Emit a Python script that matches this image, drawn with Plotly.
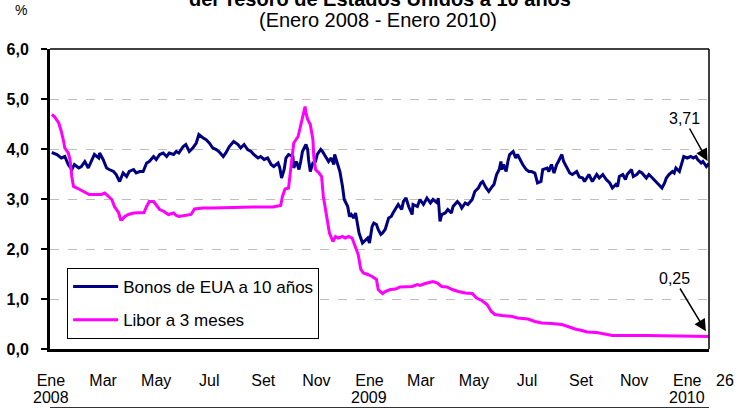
import plotly.graph_objects as go

# ---------------- data ----------------
bonos_dates = [
    "2008-01-02","2008-01-08","2008-01-13","2008-01-17","2008-01-21","2008-01-25","2008-01-28",
    "2008-02-02","2008-02-05","2008-02-09","2008-02-13","2008-02-17","2008-02-20","2008-02-25","2008-02-26",
    "2008-03-01","2008-03-05","2008-03-08","2008-03-13","2008-03-16","2008-03-20","2008-03-24","2008-03-28","2008-03-31",
    "2008-04-05","2008-04-08","2008-04-12","2008-04-16","2008-04-20","2008-04-23","2008-04-28",
    "2008-05-01","2008-05-05","2008-05-09","2008-05-13","2008-05-16","2008-05-21","2008-05-24","2008-05-27",
    "2008-06-01","2008-06-04","2008-06-08","2008-06-12","2008-06-16","2008-06-19","2008-06-24","2008-06-27",
    "2008-07-01","2008-07-05","2008-07-09","2008-07-12","2008-07-17","2008-07-20","2008-07-24","2008-07-29",
    "2008-08-03","2008-08-06","2008-08-10","2008-08-14","2008-08-18","2008-08-21","2008-08-26","2008-08-29",
    "2008-09-02","2008-09-06","2008-09-10","2008-09-13","2008-09-18","2008-09-20","2008-09-22","2008-09-25","2008-09-27","2008-09-30",
    "2008-10-05","2008-10-06","2008-10-09","2008-10-12","2008-10-14","2008-10-16","2008-10-20","2008-10-22","2008-10-23","2008-10-25","2008-10-28","2008-10-31",
    "2008-11-02","2008-11-06","2008-11-08","2008-11-12","2008-11-15","2008-11-18","2008-11-21","2008-11-22","2008-11-25","2008-11-28",
    "2008-12-01","2008-12-03","2008-12-07","2008-12-09","2008-12-11","2008-12-14","2008-12-16","2008-12-18","2008-12-20","2008-12-24","2008-12-26","2008-12-30",
    "2009-01-01","2009-01-04","2009-01-06","2009-01-09","2009-01-11","2009-01-14","2009-01-16","2009-01-19","2009-01-23","2009-01-26","2009-01-28",
    "2009-02-01","2009-02-03","2009-02-07","2009-02-09","2009-02-12","2009-02-15","2009-02-19","2009-02-20","2009-02-25","2009-02-28",
    "2009-03-04","2009-03-08","2009-03-12","2009-03-15","2009-03-20","2009-03-21","2009-03-23","2009-03-25","2009-03-29",
    "2009-04-01","2009-04-05","2009-04-07","2009-04-12","2009-04-15","2009-04-17","2009-04-21","2009-04-24","2009-04-29",
    "2009-05-02","2009-05-06","2009-05-09","2009-05-11","2009-05-15","2009-05-18","2009-05-22","2009-05-24","2009-05-27","2009-05-30",
    "2009-06-01","2009-06-02","2009-06-04","2009-06-07","2009-06-09","2009-06-11","2009-06-15","2009-06-18","2009-06-20","2009-06-24","2009-06-26","2009-06-30",
    "2009-07-03","2009-07-06","2009-07-10","2009-07-13","2009-07-17","2009-07-19","2009-07-24","2009-07-26","2009-07-29",
    "2009-08-01","2009-08-04","2009-08-06","2009-08-10","2009-08-12","2009-08-15","2009-08-19","2009-08-22","2009-08-27","2009-08-30",
    "2009-09-03","2009-09-05","2009-09-08","2009-09-10","2009-09-14","2009-09-19","2009-09-22","2009-09-26","2009-09-30",
    "2009-10-04","2009-10-07","2009-10-11","2009-10-13","2009-10-15","2009-10-19","2009-10-22","2009-10-24","2009-10-29","2009-10-31",
    "2009-11-04","2009-11-07","2009-11-10","2009-11-15","2009-11-18","2009-11-22","2009-11-26","2009-11-30",
    "2009-12-03","2009-12-06","2009-12-08","2009-12-11","2009-12-15","2009-12-17","2009-12-19","2009-12-23","2009-12-26","2009-12-28",
    "2010-01-01","2010-01-05","2010-01-08","2010-01-11","2010-01-13","2010-01-17","2010-01-19","2010-01-23","2010-01-26",
]
bonos_vals = [
    3.93,3.89,3.82,3.85,3.69,3.59,3.69,
    3.62,3.65,3.75,3.62,3.79,3.89,3.82,3.92,
    3.79,3.62,3.59,3.55,3.49,3.35,3.52,3.45,3.55,
    3.59,3.52,3.55,3.55,3.72,3.75,3.85,
    3.79,3.89,3.92,3.85,3.92,3.89,3.95,3.92,
    4.05,4.09,3.95,4.02,4.12,4.29,4.22,4.19,
    4.12,4.02,3.99,3.95,3.85,3.92,4.05,4.15,
    4.09,4.02,4.09,3.99,3.95,3.89,3.82,3.85,
    3.79,3.82,3.69,3.65,3.72,3.62,3.42,3.59,3.82,3.89,
    3.85,3.62,3.75,3.59,3.75,3.95,4.09,3.99,3.79,3.55,3.72,3.75,
    3.89,3.99,3.95,3.82,3.75,3.82,3.69,3.89,3.72,3.55,
    3.25,2.99,2.85,2.65,2.69,2.62,2.72,2.52,2.32,2.12,2.15,2.22,
    2.12,2.45,2.52,2.49,2.39,2.29,2.32,2.39,2.62,2.65,2.72,
    2.82,2.89,2.79,2.95,3.02,2.85,2.69,2.89,2.85,2.99,
    2.89,3.02,2.92,2.99,2.92,3.02,2.55,2.69,2.72,
    2.79,2.72,2.85,2.95,2.89,2.82,2.92,2.89,2.99,
    3.15,3.22,3.32,3.35,3.22,3.15,3.25,3.29,3.49,3.59,
    3.75,3.59,3.69,3.55,3.75,3.89,3.95,3.82,3.89,3.75,3.69,3.59,
    3.55,3.55,3.52,3.32,3.35,3.59,3.62,3.55,3.69,
    3.52,3.69,3.75,3.89,3.75,3.65,3.52,3.49,3.55,3.44,
    3.42,3.35,3.45,3.49,3.35,3.49,3.42,3.49,3.39,
    3.32,3.22,3.29,3.25,3.45,3.49,3.39,3.49,3.59,3.45,
    3.49,3.55,3.52,3.42,3.49,3.42,3.35,3.29,
    3.22,3.32,3.42,3.49,3.55,3.52,3.62,3.55,3.75,3.85,
    3.82,3.85,3.82,3.85,3.79,3.72,3.75,3.65,3.71,
]

libor_dates = [
    "2008-01-02","2008-01-05","2008-01-10","2008-01-13","2008-01-16","2008-01-17","2008-01-21","2008-01-23","2008-01-25","2008-01-27","2008-01-31",
    "2008-02-03","2008-02-08","2008-02-11","2008-02-14","2008-02-22","2008-02-28",
    "2008-03-03","2008-03-07","2008-03-11","2008-03-14","2008-03-19","2008-03-21","2008-03-23","2008-03-26","2008-03-30",
    "2008-04-05","2008-04-12","2008-04-17","2008-04-20","2008-04-23","2008-04-28",
    "2008-05-01","2008-05-05","2008-05-10","2008-05-15","2008-05-21","2008-05-24","2008-05-27",
    "2008-06-04","2008-06-10","2008-06-14","2008-06-24","2008-07-05","2008-07-24","2008-08-20",
    "2008-09-12","2008-09-15","2008-09-21","2008-09-23","2008-09-26","2008-09-30",
    "2008-10-03","2008-10-06","2008-10-11","2008-10-13","2008-10-16","2008-10-19","2008-10-20","2008-10-22","2008-10-25","2008-10-28","2008-10-29","2008-10-31",
    "2008-11-04","2008-11-07","2008-11-09","2008-11-14","2008-11-16","2008-11-20","2008-11-23","2008-11-26",
    "2008-12-01","2008-12-04","2008-12-08","2008-12-12","2008-12-16","2008-12-19","2008-12-22","2008-12-25","2008-12-30",
    "2009-01-04","2009-01-09","2009-01-11","2009-01-16","2009-01-19","2009-01-25","2009-01-31",
    "2009-02-05","2009-02-15","2009-02-19","2009-02-25","2009-02-28",
    "2009-03-06","2009-03-12","2009-03-15","2009-03-20","2009-03-25","2009-03-31",
    "2009-04-06","2009-04-13","2009-04-21","2009-04-29",
    "2009-05-04","2009-05-10","2009-05-16","2009-05-21","2009-05-25",
    "2009-06-02","2009-06-14","2009-06-20","2009-07-02","2009-07-10","2009-07-18","2009-07-29",
    "2009-08-10","2009-08-17","2009-08-25","2009-09-02","2009-09-08","2009-09-19","2009-09-30",
    "2009-10-07","2009-11-15","2009-12-15","2010-01-11","2010-01-26",
]
libor_vals = [
    4.69,4.65,4.52,4.35,4.12,4.02,3.92,3.79,3.45,3.25,3.22,
    3.19,3.15,3.12,3.09,3.09,3.09,
    3.12,3.05,2.99,2.85,2.72,2.59,2.59,2.65,2.69,
    2.72,2.72,2.73,2.85,2.95,2.95,
    2.89,2.79,2.75,2.69,2.72,2.67,2.65,
    2.67,2.69,2.80,2.82,2.82,2.83,2.84,
    2.84,2.85,2.87,3.05,3.20,3.22,
    3.65,4.12,4.25,4.39,4.65,4.85,4.72,4.59,4.49,4.19,3.85,3.59,
    3.52,3.45,3.05,2.52,2.32,2.15,2.25,2.22,
    2.25,2.22,2.25,2.22,2.05,1.89,1.59,1.52,1.49,
    1.45,1.39,1.19,1.11,1.15,1.19,1.20,
    1.24,1.25,1.25,1.29,1.27,
    1.31,1.33,1.35,1.32,1.25,1.24,
    1.19,1.15,1.12,1.11,
    1.02,0.97,0.89,0.75,0.69,
    0.67,0.65,0.62,0.60,0.55,0.52,0.51,
    0.49,0.45,0.40,0.37,0.34,0.33,0.29,
    0.27,0.27,0.26,0.26,0.25,
]

tick_dates = ["2008-01-01","2008-03-01","2008-05-01","2008-07-01","2008-09-01","2008-11-01",
              "2009-01-01","2009-03-01","2009-05-01","2009-07-01","2009-09-01","2009-11-01",
              "2010-01-01"]
tick_labels = ["Ene","Mar","May","Jul","Set","Nov",
               "Ene","Mar","May","Jul","Set","Nov",
               "Ene"]
year_dates = ["2008-01-01", "2009-01-01", "2010-01-01"]
year_labels = ["2008", "2009", "2010"]
end_day_label = "26"

series_names = ["Bonos de EUA a 10 años", "Libor a 3 meses"]
title_text = "del Tesoro de Estados Unidos a 10 años"
subtitle_text = "(Enero 2008 - Enero 2010)"

FONT = "Arial, Liberation Sans, sans-serif"

fig = go.Figure()
fig.add_trace(go.Scatter(x=bonos_dates, y=bonos_vals, mode="lines", name=series_names[0],
                         legendgroup="a",
                         line=dict(color="#000080", width=3)))
fig.add_trace(go.Scatter(x=libor_dates, y=libor_vals, mode="lines", name=series_names[1],
                         legendgroup="b",
                         line=dict(color="#FF00FF", width=3)))

fig.update_layout(
    width=748, height=409,
    margin=dict(l=50, r=39, t=49, b=60, autoexpand=False),
    paper_bgcolor="white", plot_bgcolor="white",
    separators=",.",
    font=dict(family=FONT, color="black", size=16),
    showlegend=True,
    legend=dict(x=0.026, y=0.27, xanchor="left", yanchor="top",
                bgcolor="white", bordercolor="black", borderwidth=1,
                font=dict(size=17, family=FONT), tracegroupgap=8,
                itemwidth=45),
)

fig.update_xaxes(
    type="date", range=["2007-12-31", "2010-01-26"],
    tickvals=tick_dates, ticktext=tick_labels,
    showgrid=False, zeroline=False, automargin=False,
    showline=True, linecolor="black", linewidth=3,
    ticks="", tickfont=dict(size=16, family=FONT),
    ticklabelstandoff=15,
)
fig.update_yaxes(
    range=[0, 6], dtick=1, tickformat=".1f", automargin=False,
    showgrid=True, gridcolor="#BEBEBE", griddash="dash", gridwidth=1,
    zeroline=False,
    showline=True, linecolor="black", linewidth=3,
    ticks="outside", ticklen=6, tickwidth=1.5, tickcolor="black",
    tickfont=dict(size=16, family=FONT, weight="bold"),
    ticklabelstandoff=9,
)

# year labels under the January ticks
for d, lab in zip(year_dates, year_labels):
    fig.add_annotation(x=d, y=-0.16, xref="x", yref="paper", text=lab,
                       showarrow=False, xanchor="center", yanchor="middle",
                       font=dict(size=16, family=FONT))

# frame lines (top and right)
fig.add_shape(type="line", xref="paper", yref="paper", x0=0, x1=1, y0=1, y1=1,
              line=dict(color="black", width=1.5))
fig.add_shape(type="line", xref="paper", yref="paper", x0=1, x1=1, y0=0, y1=1,
              line=dict(color="black", width=1.5))
# bottom frame line of the picture
fig.add_shape(type="line", xref="paper", yref="paper", x0=0, x1=1, y0=-0.195, y1=-0.195,
              line=dict(color="#333333", width=1))

# titles
fig.add_annotation(text="<b>" + title_text + "</b>", xref="paper", yref="paper",
                   x=0.5, y=1.165, xanchor="center", yanchor="middle", showarrow=False,
                   font=dict(size=20, family=FONT))
fig.add_annotation(text=subtitle_text, xref="paper", yref="paper",
                   x=0.498, y=1.097, xanchor="center", yanchor="middle", showarrow=False,
                   font=dict(size=20, family=FONT))
fig.add_annotation(text="%", xref="paper", yref="paper",
                   x=-0.044, y=1.13, xanchor="center", yanchor="middle", showarrow=False,
                   font=dict(size=14, family=FONT))
fig.add_annotation(text=end_day_label, xref="paper", yref="paper",
                   x=1.025, y=-0.105, xanchor="center", yanchor="middle", showarrow=False,
                   font=dict(size=16, family=FONT))

# end-value callouts
fig.add_annotation(x=bonos_dates[-1], y=bonos_vals[-1], xref="x", yref="y",
                   text=f"{bonos_vals[-1]:.2f}".replace(".", ","),
                   showarrow=True, ax=-25, ay=-45, arrowhead=2, arrowsize=1.6,
                   arrowwidth=1.5, arrowcolor="black", standoff=3,
                   font=dict(size=16, family=FONT))
fig.add_annotation(x=libor_dates[-1], y=libor_vals[-1], xref="x", yref="y",
                   text=f"{libor_vals[-1]:.2f}".replace(".", ","),
                   showarrow=True, ax=-35, ay=-58, arrowhead=2, arrowsize=1.6,
                   arrowwidth=1.5, arrowcolor="black", standoff=6,
                   font=dict(size=16, family=FONT))

fig.write_html("out.html", config={"displayModeBar": False},
               post_script="document.body.style.margin='0';")
